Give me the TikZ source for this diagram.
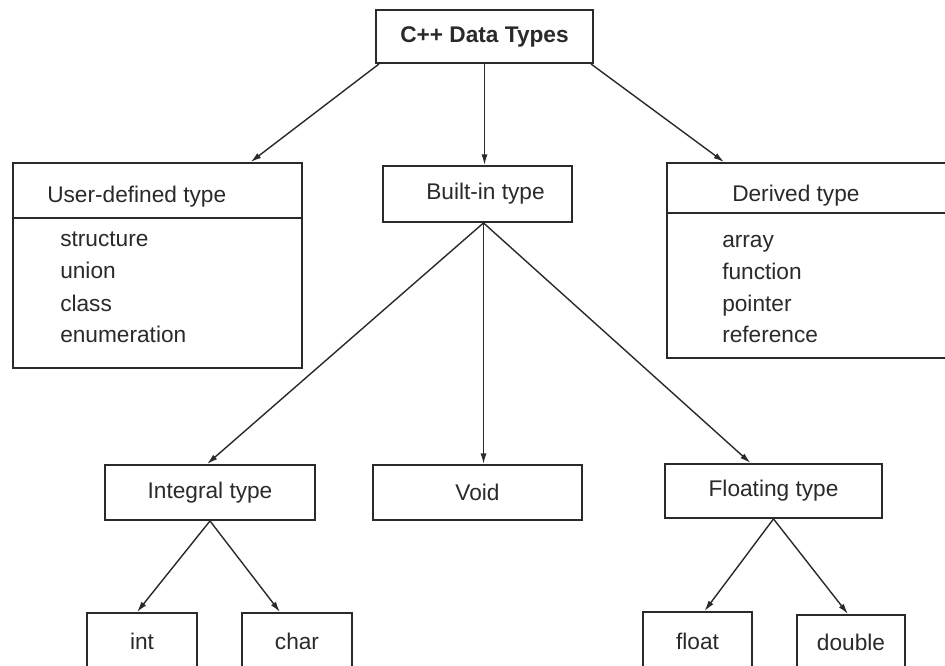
\documentclass[tikz,border=0pt]{standalone}
\usepackage{fontspec}
\setmainfont{Liberation Sans}
\usetikzlibrary{arrows.meta,calc}
\definecolor{ink}{HTML}{2A2A2A}
\tikzset{
  box/.style 2 args={draw=ink, line width=1.4pt, rectangle, inner sep=0pt,
    minimum width=#1*0.75pt, minimum height=#2*0.75pt, text=ink,
    font=\fontsize{17}{20}\selectfont},
  item/.style={anchor=base west, inner sep=0pt, text=ink, font=\fontsize{17}{20}\selectfont},
  conn/.style={draw=ink, line width=1.05pt, -{Latex[length=8pt,width=4.5pt]}}
}
\begin{document}
\begin{tikzpicture}[x=0.75pt,y=-0.75pt]
\clip (0,0) rectangle (945,666);
\fill[white] (0,0) rectangle (945,666);
% top
\node[box={217}{53}, font=\fontsize{17}{20}\selectfont\bfseries] (top) at (484.5,36.5) {C++ Data Types};
% user-defined
\node[box={289}{205}] (ud) at (157.5,265.5) {};
\draw[draw=ink, line width=1.1pt] ($(ud.north west)+(0,56)$) -- ($(ud.north east)+(0,56)$);
\node[item] (udh) at (47,203) {User-defined type};
\node[item] (ud1) at (60,247) {structure};
\node[item] (ud2) at (60,279) {union};
\node[item] (ud3) at (60,311) {class};
\node[item] (ud4) at (60,343) {enumeration};
% built-in
\node[box={189}{56}] (bi) at (477.5,194) {\hspace*{12pt}Built-in type};
% derived
\node[box={293}{195}] (dv) at (813.5,260.5) {};
\draw[draw=ink, line width=1.1pt] ($(dv.north west)+(0,51)$) -- ($(dv.north east)+(0,51)$);
\node[item] (dvh) at (732,202) {Derived type};
\node[item] (dv1) at (722,248) {array};
\node[item] (dv2) at (722,280) {function};
\node[item] (dv3) at (722,312) {pointer};
\node[item] (dv4) at (722,343) {reference};
% second level
\node[box={210}{55}] (it) at (210,492.5) {Integral type};
\node[box={209}{55}] (vo) at (477.5,492.5) {Void};
\node[box={217}{54}] (ft) at (773.5,491) {Floating type};
% third level
\node[box={110}{57}] (in) at (142,641.5) {int};
\node[box={110}{57}] (ch) at (297,641.5) {char};
\node[box={109}{58}] (fl) at (697.5,641) {float};
\node[box={108}{55}] (db) at (851,642.5) {double};
% connectors
\draw[conn] ($(top.south west)+(4,0)$) -- ($(ud.north west)!0.82!(ud.north east)$);
\draw[conn] (top.south) -- (top.south |- bi.north);
\draw[conn] ($(top.south east)+(-3,0)$) -- ($(dv.north west)+(58,0)$);
\coordinate (ap) at ($(bi.south)+(6,0)$);
\draw[conn] (ap) -- ($(it.north)+(-3,0)$);
\draw[conn] (ap) -- (ap |- vo.north);
\draw[conn] (ap) -- ($(ft.north)+(-23,0)$);
\draw[conn] (it.south) -- ($(in.north)+(-5,0)$);
\draw[conn] (it.south) -- ($(ch.north)+(-17,0)$);
\draw[conn] (ft.south) -- ($(fl.north)+(7,0)$);
\draw[conn] (ft.south) -- ($(db.north)+(-3,0)$);
\end{tikzpicture}
\end{document}
